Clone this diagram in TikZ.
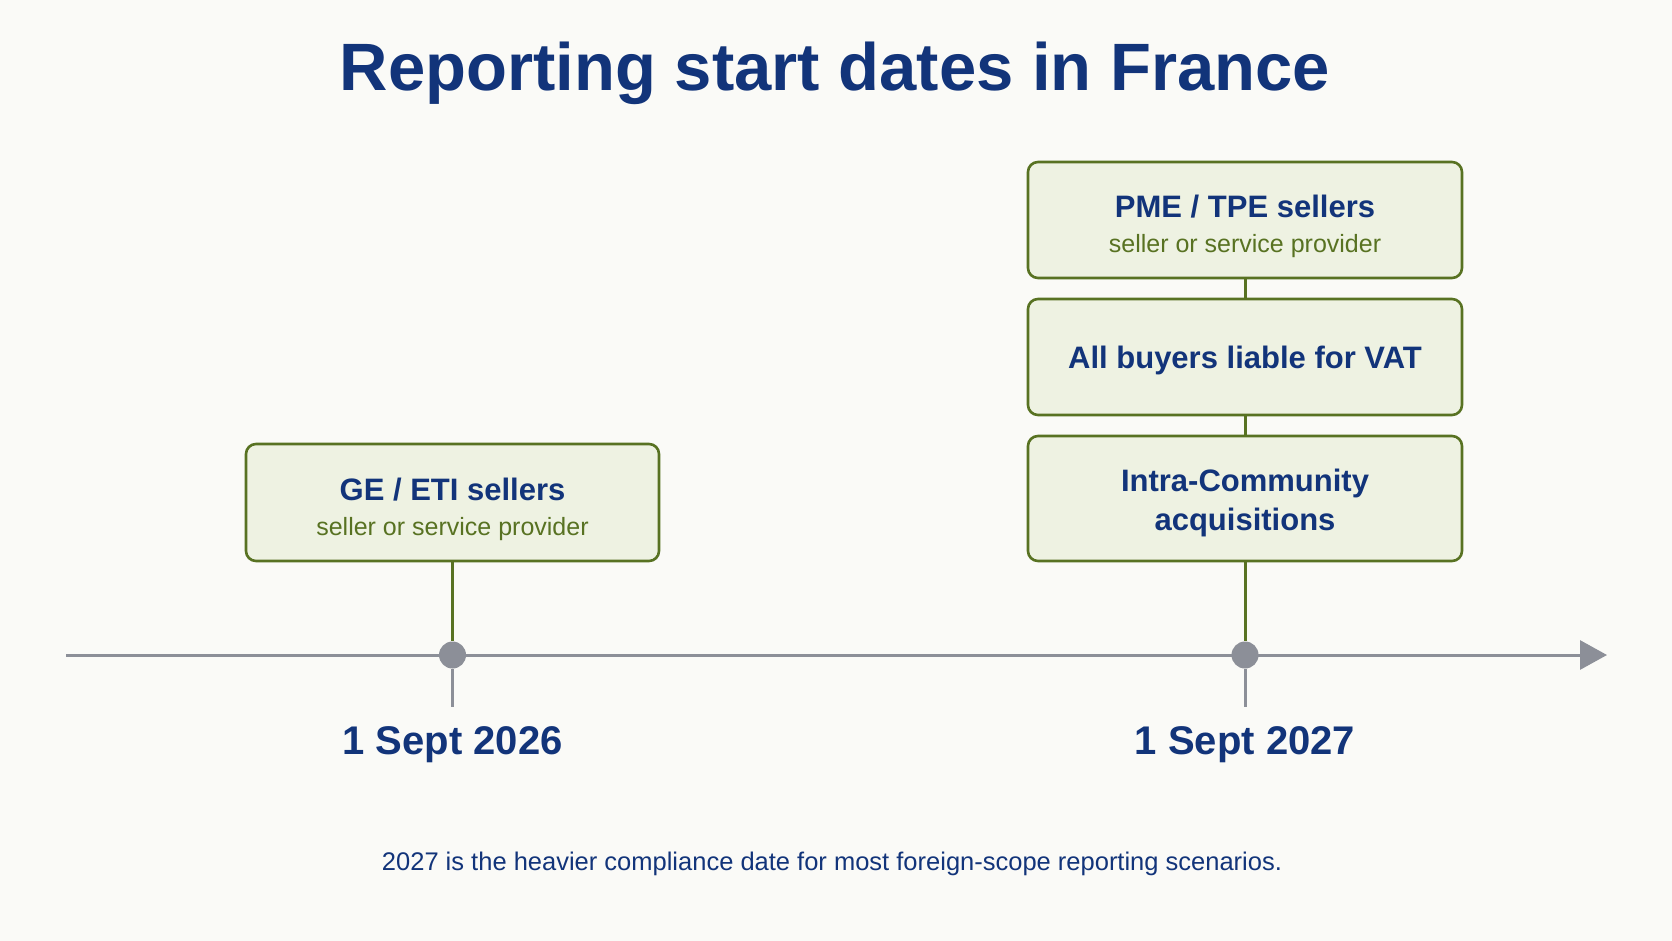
\documentclass[tikz,border=0pt]{standalone}
\usepackage{fontspec}
\setmainfont{Liberation Sans}
\usepackage{xcolor}
\usepackage{tikz}
\usetikzlibrary{arrows.meta,positioning,calc}

\definecolor{navy}{RGB}{18,52,122}
\definecolor{olive}{RGB}{88,114,34}
\definecolor{boxfill}{RGB}{238,242,226}
\definecolor{axisgray}{RGB}{140,143,152}
\definecolor{paper}{RGB}{250,250,247}

\newcommand{\subtext}[1]{{\fontsize{25}{30}\selectfont\mdseries\color{olive}#1}}
\newcommand{\headup}[1]{\rule{0pt}{#1}}

\tikzset{
	datebox/.style={draw=olive, line width=2.6pt, fill=boxfill, rounded corners=10pt, align=center, inner sep=0pt, text=navy, font=\fontsize{31}{37}\selectfont\bfseries},
	greenlink/.style={draw=olive, line width=3pt},
	graylink/.style={draw=axisgray, line width=3pt},
	dotmark/.style={circle, fill=axisgray, minimum size=27pt, inner sep=0pt},
	datelabel/.style={text=navy, font=\fontsize{40}{48}\selectfont\bfseries},
}

\begin{document}
\begin{tikzpicture}[x=1pt,y=1pt,yscale=-1,xscale=1]
	%set diagram area: 1672 x 941
	\fill[paper] (0,0) rectangle (1672,941);
	\useasboundingbox (0,0) rectangle (1672,941);

	% Text Node
	\node[anchor=base, text=navy, font=\fontsize{67}{80}\selectfont\bfseries] (title) at (835,91) {Reporting start dates in France};

	%Shape: Rectangle
	\node[datebox, minimum width=413pt, minimum height=117pt] (geeti) at (452.5,502.5) {\headup{36pt}GE / ETI sellers\\[-2.5pt]\subtext{seller or service provider}};
	%Shape: Rectangle
	\node[datebox, minimum width=434pt, minimum height=116pt] (pmetpe) at (1245,220) {\headup{35pt}PME / TPE sellers\\[-2.5pt]\subtext{seller or service provider}};
	%Shape: Rectangle
	\node[datebox, minimum width=434pt, minimum height=116pt] (buyers) at (1245,357) {\headup{29.5pt}All buyers liable for VAT};
	%Shape: Rectangle
	\node[datebox, minimum width=434pt, minimum height=125pt] (intra) at (1245,498.5) {\headup{31.5pt}Intra-Community\\[2pt]acquisitions};

	%Straight Lines
	\coordinate (axisstart) at (66,655);
	\coordinate (axisend) at (1607,655);
	\draw[graylink, -{Triangle[length=27pt,width=29pt]}] (axisstart) -- (axisend);

	\coordinate (tickA) at (452.5,707);
	\coordinate (tickB) at (1245,707);
	\node[dotmark] (dotA) at (452.5,655) {};
	\node[dotmark] (dotB) at (1245,655) {};

	%Straight Lines
	\draw[greenlink] (geeti.south) -- (dotA.north);
	\draw[greenlink] (pmetpe.south) -- (buyers.north);
	\draw[greenlink] (buyers.south) -- (intra.north);
	\draw[greenlink] (intra.south) -- (dotB.north);
	\draw[graylink] (dotA.south) -- (tickA);
	\draw[graylink] (dotB.south) -- (tickB);

	% Text Node
	\node[datelabel, anchor=base] (dateA) at (452.5,754) {1 Sept 2026};
	% Text Node
	\node[datelabel, anchor=base] (dateB) at (1245,754) {1 Sept 2027};

	% Text Node
	\node[anchor=base, text=navy, font=\fontsize{25.5}{31}\selectfont] (note) at (832,870) {2027 is the heavier compliance date for most foreign-scope reporting scenarios.};
\end{tikzpicture}
\end{document}
